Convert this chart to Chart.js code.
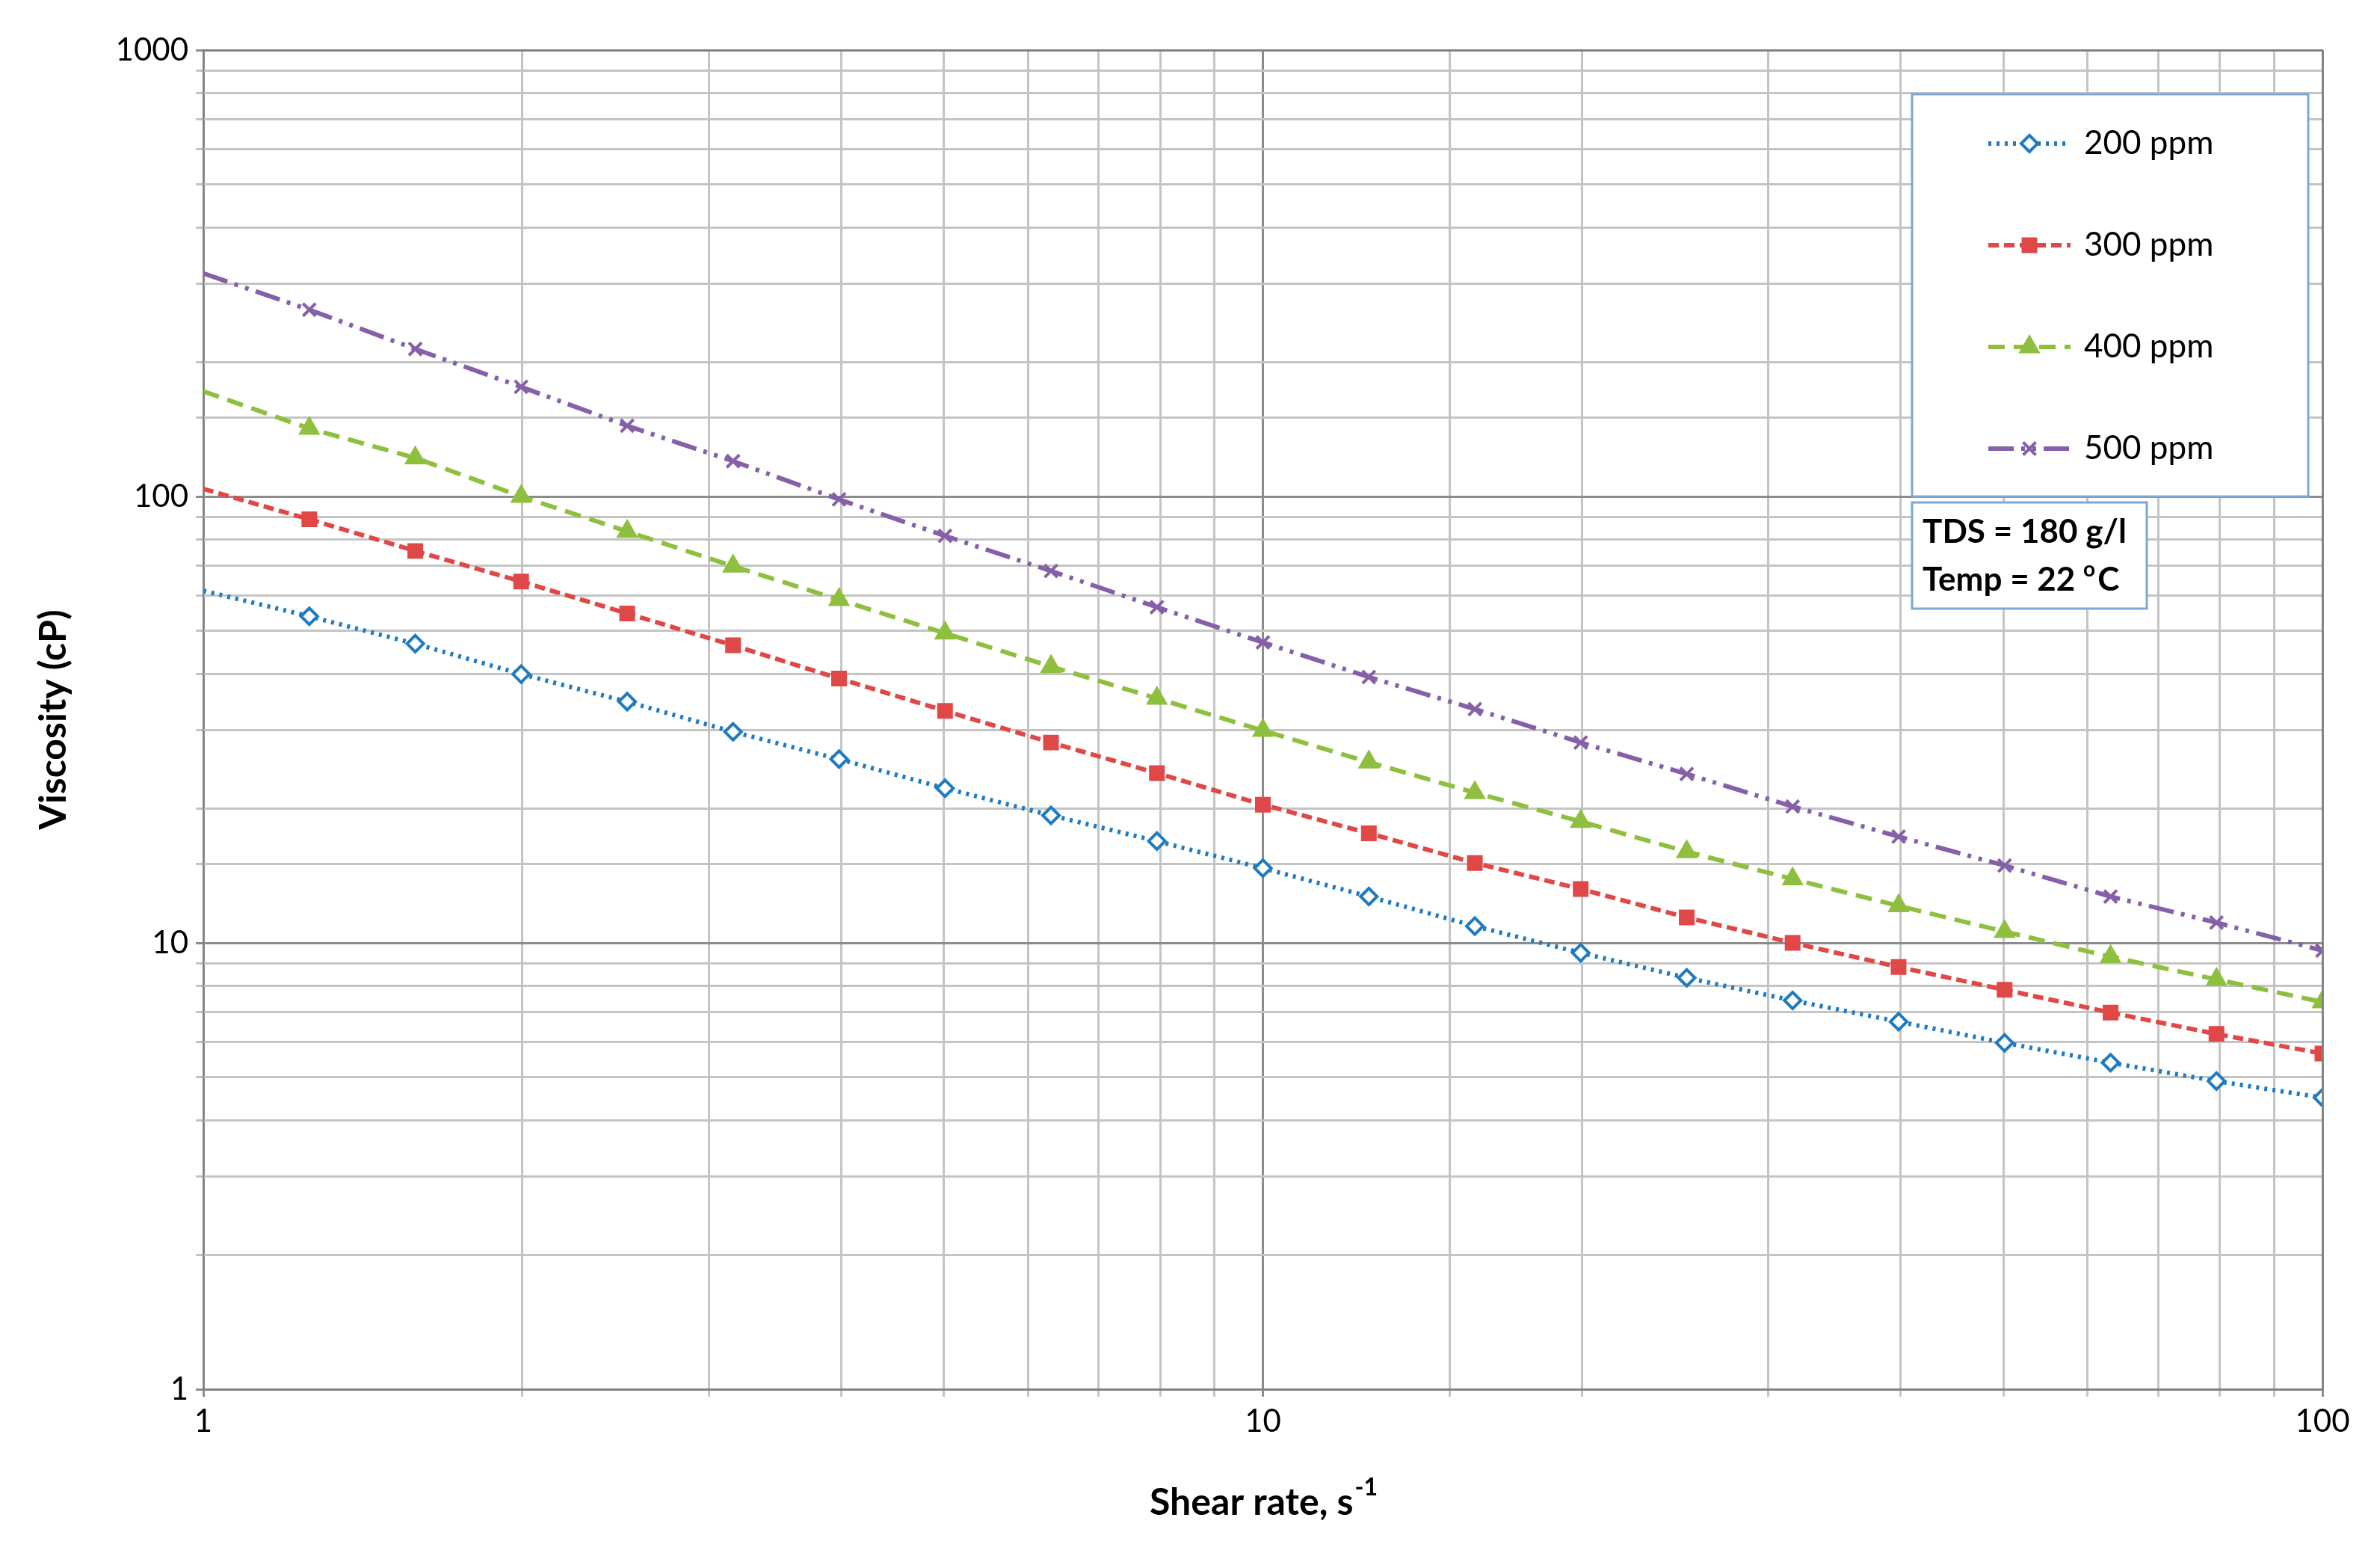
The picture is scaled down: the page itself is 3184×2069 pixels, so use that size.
<!DOCTYPE html>
<html>
<head>
<meta charset="utf-8">
<script src="https://cdn.jsdelivr.net/npm/chart.js@4/dist/chart.umd.min.js"></script>
<style>
  html, body { margin: 0; padding: 0; background: #fff; }
  #wrap { width: 3184px; height: 2069px; position: relative; }
</style>
</head>
<body>
<div id="wrap"><canvas id="c"></canvas></div>
<script>
// shear rates, 10 points per decade
const shearRates = [1, 1.259, 1.585, 1.995, 2.512, 3.162, 3.981, 5.012, 6.310, 7.943, 10,
  12.59, 15.85, 19.95, 25.12, 31.62, 39.81, 50.12, 63.10, 79.43, 100];

const visc200 = [61.5, 53.9, 46.8, 40.0, 34.7, 29.7, 25.8, 22.2, 19.3, 16.9, 14.7,
  12.7, 10.9, 9.5, 8.35, 7.43, 6.66, 5.97, 5.39, 4.90, 4.50];
const visc300 = [104, 88.9, 75.5, 64.5, 54.7, 46.4, 39.1, 33.1, 28.1, 24.0, 20.4,
  17.6, 15.1, 13.2, 11.4, 10.0, 8.83, 7.85, 6.98, 6.25, 5.65];
const visc400 = [172, 142, 122, 100, 83.5, 69.8, 58.7, 49.4, 41.6, 35.3, 29.9,
  25.4, 21.7, 18.7, 16.0, 13.9, 12.1, 10.6, 9.31, 8.28, 7.37];
const visc500 = [316, 262, 214, 176, 144, 120, 98.5, 81.6, 68.1, 56.5, 47.1,
  39.4, 33.4, 28.1, 23.9, 20.2, 17.3, 14.9, 12.7, 11.1, 9.61];

const seriesLabels = ["200 ppm", "300 ppm", "400 ppm", "500 ppm"];
const xTicks = [1, 10, 100];
const yTicks = [1, 10, 100, 1000];

const FONT = "Lato, 'Open Sans', sans-serif";

const styles = [
  { color: "#1f7bc1", dash: [4, 7], point: "rectRot", fill: "#ffffff", r: 11 },
  { color: "#e04848", dash: [14, 7], point: "rect", fill: "#e04848", r: 12 },
  { color: "#8fbf3f", dash: [22, 12], point: "triangle", fill: "#8fbf3f", r: 13 },
  { color: "#8560a8", dash: [34, 10, 5, 10, 5, 10], point: "crossRot", fill: "#8560a8", r: 12 }
];
const allData = [visc200, visc300, visc400, visc500];

const datasets = allData.map((vals, i) => ({
  label: seriesLabels[i],
  data: vals.map((v, j) => ({ x: shearRates[j], y: v })),
  borderColor: styles[i].color,
  backgroundColor: styles[i].fill,
  borderWidth: 6,
  borderDash: styles[i].dash,
  pointStyle: styles[i].point,
  pointRadius: ctx => ctx.dataIndex === 0 ? 0 : styles[i].r,
  pointBorderWidth: 4,
  pointBorderColor: styles[i].color,
  pointBackgroundColor: styles[i].fill,
  tension: 0
}));

function isDecade(v) {
  const l = Math.log10(v);
  return Math.abs(l - Math.round(l)) < 1e-6;
}

const decor = {
  id: "decor",
  afterDraw(chart) {
    const ctx = chart.ctx;
    const a = chart.chartArea;
    ctx.save();
    ctx.strokeStyle = "#808080";
    ctx.lineWidth = 2;
    ctx.strokeRect(a.left, a.top, a.right - a.left, a.bottom - a.top);

    // legend box
    const lx = 2558, ly = 126, lw = 530, lh = 538;
    ctx.fillStyle = "#fff";
    ctx.fillRect(lx, ly, lw, lh);
    ctx.strokeStyle = "#7fa6d6";
    ctx.lineWidth = 3;
    ctx.strokeRect(lx, ly, lw, lh);
    ctx.font = "44px " + FONT;
    ctx.textBaseline = "middle";
    seriesLabels.forEach((lab, i) => {
      const y = ly + 66 + i * 136;
      const s = styles[i];
      ctx.strokeStyle = s.color;
      ctx.lineWidth = 6;
      ctx.setLineDash(s.dash);
      ctx.beginPath();
      ctx.moveTo(2660, y);
      ctx.lineTo(2770, y);
      ctx.stroke();
      ctx.setLineDash([]);
      ctx.fillStyle = s.fill;
      ctx.lineWidth = 4;
      Chart.helpers.drawPoint(ctx, { pointStyle: s.point, radius: s.r, rotation: 0, borderWidth: 4 }, 2715, y);
      ctx.fillStyle = "#000";
      ctx.textAlign = "left";
      ctx.fillText(lab, 2788, y);
    });

    // TDS box
    const bx = 2558, by = 672, bw = 314, bh = 142;
    ctx.fillStyle = "#fff";
    ctx.fillRect(bx, by, bw, bh);
    ctx.strokeStyle = "#7fa6d6";
    ctx.lineWidth = 3;
    ctx.strokeRect(bx, by, bw, bh);
    ctx.fillStyle = "#000";
    ctx.font = "bold 44px " + FONT;
    ctx.textAlign = "left";
    ctx.fillText("TDS = 180 g/l", bx + 14, by + 40);
    const t = "Temp = 22 ";
    ctx.fillText(t, bx + 14, by + 104);
    const w = ctx.measureText(t).width;
    ctx.font = "bold 28px " + FONT;
    ctx.fillText("o", bx + 14 + w, by + 90);
    const w2 = ctx.measureText("o").width;
    ctx.font = "bold 44px " + FONT;
    ctx.fillText("C", bx + 14 + w + w2 + 3, by + 104);

    // x title
    ctx.font = "bold 50px " + FONT;
    const xt = "Shear rate, s";
    const xw = ctx.measureText(xt).width;
    ctx.font = "bold 32px " + FONT;
    const sw = ctx.measureText("-1").width;
    const cx = (a.left + a.right) / 2 - (xw + sw) / 2;
    ctx.font = "bold 50px " + FONT;
    ctx.fillText(xt, cx, 2010);
    ctx.font = "bold 32px " + FONT;
    ctx.fillText("-1", cx + xw + 2, 1990);

    // y title
    ctx.translate(72, (a.top + a.bottom) / 2);
    ctx.rotate(-Math.PI / 2);
    ctx.font = "bold 50px " + FONT;
    ctx.textAlign = "center";
    ctx.fillText("Viscosity (cP)", 0, 0);
    ctx.restore();
  }
};

const gridColor = ctx => isDecade(ctx.tick.value) ? "#8c8c8c" : "#c4c4c4";

new Chart(document.getElementById("c"), {
  type: "line",
  data: { datasets },
  options: {
    responsive: true,
    maintainAspectRatio: false,
    devicePixelRatio: 1,
    animation: false,
    layout: { padding: { left: 0, top: 67, right: 77, bottom: 0 } },
    plugins: { legend: { display: false }, tooltip: { enabled: false } },
    scales: {
      x: {
        type: "logarithmic",
        min: xTicks[0],
        max: xTicks[xTicks.length - 1],
        afterFit(s) { s.height = 211; },
        grid: { color: gridColor, lineWidth: 3, tickLength: 10 },
        border: { display: false },
        ticks: {
          autoSkip: false, maxRotation: 0, color: "#000", padding: 8,
          font: { size: 42, family: FONT },
          callback: v => xTicks.includes(v) ? String(v) : ""
        }
      },
      y: {
        type: "logarithmic",
        min: yTicks[0],
        max: yTicks[yTicks.length - 1],
        afterFit(s) { s.width = 272; },
        grid: { color: gridColor, lineWidth: 3, tickLength: 10 },
        border: { display: false },
        ticks: {
          autoSkip: false, color: "#000", padding: 10,
          font: { size: 42, family: FONT },
          callback: v => yTicks.includes(v) ? String(v) : ""
        }
      }
    }
  },
  plugins: [decor]
});
</script>
</body>
</html>
